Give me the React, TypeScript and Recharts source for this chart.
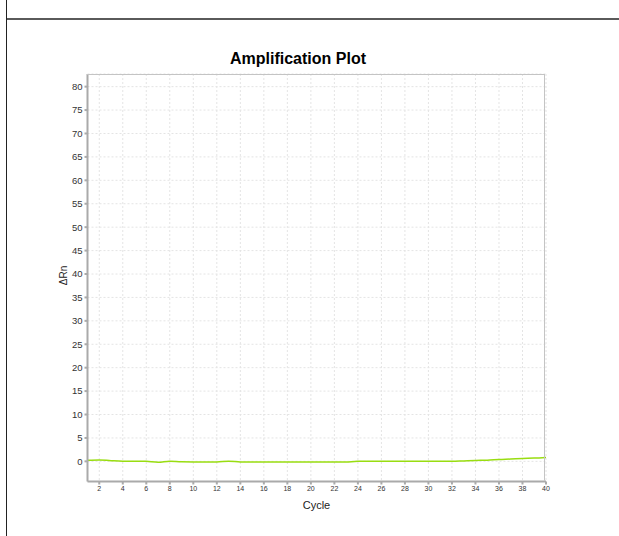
import React from "react";
import { LineChart, Line, XAxis, YAxis, CartesianGrid } from "recharts";

const cycles = [1,2,3,4,5,6,7,8,9,10,11,12,13,14,15,16,17,18,19,20,21,22,23,24,25,26,27,28,29,30,31,32,33,34,35,36,37,38,39,40];
const deltaRn = [0.25,0.3,0.15,0.05,0.05,0.0,-0.2,0.05,-0.1,-0.12,-0.12,-0.12,0.05,-0.12,-0.15,-0.15,-0.15,-0.15,-0.15,-0.15,-0.15,-0.15,-0.12,0.0,0.0,0.0,0.0,0.0,0.0,0.0,0.0,0.0,0.1,0.2,0.25,0.4,0.5,0.62,0.7,0.85];
const xTicks = [2,4,6,8,10,12,14,16,18,20,22,24,26,28,30,32,34,36,38,40];
const yTicks = [0,5,10,15,20,25,30,35,40,45,50,55,60,65,70,75,80];

const data = cycles.map((c, i) => ({ cycle: c, rn: deltaRn[i] }));

const font = "'Liberation Sans', Arial, sans-serif";

export default function App() {
  return (
    <div style={{ position: "relative", width: 611, height: 520 }}>
      <div style={{ position: "fixed", left: 6, top: 0, width: 1, height: 536, background: "#222", zIndex: 5 }} />
      <div style={{ position: "fixed", left: 7, top: 18, width: 612, height: 2, background: "#5a5a5a", zIndex: 5 }} />
      <div style={{ position: "absolute", left: 0, width: 580, top: 42, textAlign: "center", fontFamily: font, fontWeight: "bold", fontSize: 16, color: "#000" }}>
        Amplification Plot
      </div>
      <div style={{ position: "absolute", left: 280, width: 57, top: 491, textAlign: "center", fontFamily: font, fontSize: 11, color: "#222" }}>
        Cycle
      </div>
      <div style={{ position: "absolute", left: 40, top: 262, width: 30, textAlign: "center", transform: "rotate(-90deg)", fontFamily: font, fontSize: 10, color: "#222" }}>
        ΔRn
      </div>
      <LineChart
        width={600}
        height={520}
        data={data}
        margin={{ top: 66, left: 39.5, right: 62, bottom: 16.5 }}
      >
        <CartesianGrid stroke="#e4e4e4" strokeDasharray="2 2" />
        <XAxis
          dataKey="cycle"
          type="number"
          domain={[1, 40]}
          ticks={xTicks}
          height={30}
          interval={0}
          tickSize={3}
          stroke="#aaaaaa"
          strokeWidth={2}
          tick={{ fontSize: 7, fill: "#333", fontFamily: font }}
          allowDataOverflow
        />
        <YAxis
          type="number"
          domain={[-4.3, 82.7]}
          ticks={yTicks}
          width={40}
          interval={0}
          tickSize={3}
          stroke="#aaaaaa"
          strokeWidth={2}
          tick={{ fontSize: 9.5, fill: "#333", fontFamily: font }}
          allowDataOverflow
        />
        <Line
          type="monotone"
          dataKey="rn"
          stroke="#99dd11"
          strokeWidth={1.5}
          dot={false}
          isAnimationActive={false}
        />
      </LineChart>
      <div style={{ position: "absolute", left: 79, top: 66, width: 458, height: 407, borderTop: "1px solid #c4c4c4", borderRight: "1px solid #c4c4c4", pointerEvents: "none", boxSizing: "border-box" }} />
    </div>
  );
}
